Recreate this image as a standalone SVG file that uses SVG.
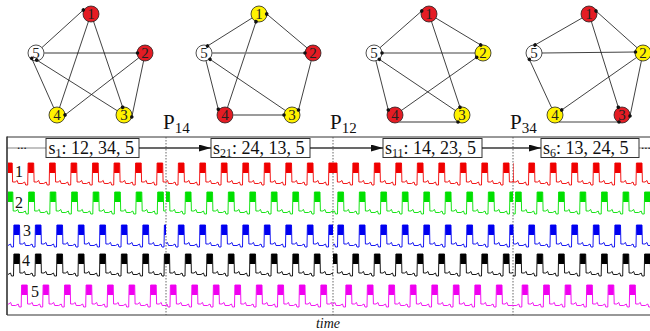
<svg xmlns="http://www.w3.org/2000/svg" width="650" height="331" viewBox="0 0 650 331">
<style>
.nd circle{stroke:#222;stroke-width:0.8}
.r{fill:#e41c24}.y{fill:#fff200}.wt{fill:#fff}
.nd text{font-family:"Liberation Serif",serif;font-size:15px;text-anchor:middle;fill:#222}
.ed line{stroke:#111;stroke-width:0.8;fill:none}
.ed line.d{marker-end:url(#dot)}
.ed line.g{stroke:#7a7a7a;stroke-width:1.4}
.w{fill:none;stroke:currentColor;stroke-width:0.9}
.blk{fill:currentColor}
.t{font-family:"Liberation Serif",serif;fill:#111}
.box{fill:#fff;stroke:#333;stroke-width:1}
.arr{stroke:#111;stroke-width:1;marker-end:url(#ah)}
.dash{stroke:#555;stroke-width:0.9;stroke-dasharray:1.5 1.5}
.fr{stroke:#333;fill:none}
</style>
<defs>
<marker id="dot" markerUnits="userSpaceOnUse" markerWidth="5" markerHeight="5" refX="2.5" refY="2.5" orient="auto"><circle cx="2.5" cy="2.5" r="1.8" fill="#111"/></marker>
<marker id="ah" markerUnits="userSpaceOnUse" markerWidth="13" markerHeight="8" refX="12" refY="3.5" orient="auto"><path d="M0,0 L12,3.5 L0,7 Z" fill="#111"/></marker>
<clipPath id="c1"><rect x="8" y="158" width="158" height="156"/></clipPath>
<clipPath id="c2"><rect x="166" y="158" width="167" height="156"/></clipPath>
<clipPath id="c3"><rect x="333" y="158" width="180" height="156"/></clipPath>
<clipPath id="c4"><rect x="513" y="158" width="137" height="156"/></clipPath>
<g id="wave">
<path class="w" d="M0,23l.4-22h5.6l.4,19h2.6l2-1.5l1,3h4l2.5-1.5l1,3h2l.4-22h5.6l.4,19h2.6l2-1.5l1,3h4l2.5-1.5l1,3h2l.4-22h5.6l.4,19h2.6l2-1.5l1,3h4l2.5-1.5l1,3h2l.4-22h5.6l.4,19h2.6l2-1.5l1,3h4l2.5-1.5l1,3h2l.4-22h5.6l.4,19h2.6l2-1.5l1,3h4l2.5-1.5l1,3h2l.4-22h5.6l.4,19h2.6l2-1.5l1,3h4l2.5-1.5l1,3h2l.4-22h5.6l.4,19h2.6l2-1.5l1,3h4l2.5-1.5l1,3h2l.4-22h5.6l.4,19h2.6l2-1.5l1,3h4l2.5-1.5l1,3h2l.4-22h5.6l.4,19h2.6l2-1.5l1,3h4l2.5-1.5l1,3h2l.4-22h5.6l.4,19h2.6l2-1.5l1,3h4l2.5-1.5l1,3h2l.4-22h5.6l.4,19h2.6l2-1.5l1,3h4l2.5-1.5l1,3h2l.4-22h5.6l.4,19h2.6l2-1.5l1,3h4l2.5-1.5l1,3h2l.4-22h5.6l.4,19h2.6l2-1.5l1,3h4l2.5-1.5l1,3h2l.4-22h5.6l.4,19h2.6l2-1.5l1,3h4l2.5-1.5l1,3h2l.4-22h5.6l.4,19h2.6l2-1.5l1,3h4l2.5-1.5l1,3h2l.4-22h5.6l.4,19h2.6l2-1.5l1,3h4l2.5-1.5l1,3h2l.4-22h5.6l.4,19h2.6l2-1.5l1,3h4l2.5-1.5l1,3h2l.4-22h5.6l.4,19h2.6l2-1.5l1,3h4l2.5-1.5l1,3h2l.4-22h5.6l.4,19h2.6l2-1.5l1,3h4l2.5-1.5l1,3h2l.4-22h5.6l.4,19h2.6l2-1.5l1,3h4l2.5-1.5l1,3h2l.4-22h5.6l.4,19h2.6l2-1.5l1,3h4l2.5-1.5l1,3h2l.4-22h5.6l.4,19h2.6l2-1.5l1,3h4l2.5-1.5l1,3h2l.4-22h5.6l.4,19h2.6l2-1.5l1,3h4l2.5-1.5l1,3h2l.4-22h5.6l.4,19h2.6l2-1.5l1,3h4l2.5-1.5l1,3h2l.4-22h5.6l.4,19h2.6l2-1.5l1,3h4l2.5-1.5l1,3h2l.4-22h5.6l.4,19h2.6l2-1.5l1,3h4l2.5-1.5l1,3h2l.4-22h5.6l.4,19h2.6l2-1.5l1,3h4l2.5-1.5l1,3h2l.4-22h5.6l.4,19h2.6l2-1.5l1,3h4l2.5-1.5l1,3h2l.4-22h5.6l.4,19h2.6l2-1.5l1,3h4l2.5-1.5l1,3h2l.4-22h5.6l.4,19h2.6l2-1.5l1,3h4l2.5-1.5l1,3h2l.4-22h5.6l.4,19h2.6l2-1.5l1,3h4l2.5-1.5l1,3h2l.4-22h5.6l.4,19h2.6l2-1.5l1,3h4l2.5-1.5l1,3h2"/>
<path class="blk" d="M0.4,1h5.6v10h-5.6zm21.5,0h5.6v10h-5.6zm21.5,0h5.6v10h-5.6zm21.5,0h5.6v10h-5.6zm21.5,0h5.6v10h-5.6zm21.5,0h5.6v10h-5.6zm21.5,0h5.6v10h-5.6zm21.5,0h5.6v10h-5.6zm21.5,0h5.6v10h-5.6zm21.5,0h5.6v10h-5.6zm21.5,0h5.6v10h-5.6zm21.5,0h5.6v10h-5.6zm21.5,0h5.6v10h-5.6zm21.5,0h5.6v10h-5.6zm21.5,0h5.6v10h-5.6zm21.5,0h5.6v10h-5.6zm21.5,0h5.6v10h-5.6zm21.5,0h5.6v10h-5.6zm21.5,0h5.6v10h-5.6zm21.5,0h5.6v10h-5.6zm21.5,0h5.6v10h-5.6zm21.5,0h5.6v10h-5.6zm21.5,0h5.6v10h-5.6zm21.5,0h5.6v10h-5.6zm21.5,0h5.6v10h-5.6zm21.5,0h5.6v10h-5.6zm21.5,0h5.6v10h-5.6zm21.5,0h5.6v10h-5.6zm21.5,0h5.6v10h-5.6zm21.5,0h5.6v10h-5.6zm21.5,0h5.6v10h-5.6zm21.5,0h5.6v10h-5.6z"/>
</g>
</defs>

<!-- Graph 1 -->
<g id="graph1" transform="translate(91,14)">
<g id="g1-n1" class="nd"><circle class="r" cx="0" cy="0" r="8"/><text x="0" y="5">1</text></g>
<g id="g1-n2" class="nd"><circle class="r" cx="54" cy="39" r="8"/><text x="54" y="44">2</text></g>
<g id="g1-n3" class="nd"><circle class="y" cx="33" cy="101" r="8"/><text x="33" y="106">3</text></g>
<g id="g1-n4" class="nd"><circle class="y" cx="-34" cy="101" r="8"/><text x="-34" y="106">4</text></g>
<g id="g1-n5" class="nd"><circle class="wt" cx="-55" cy="39" r="8"/><text x="-55" y="44">5</text></g>
<g id="g1-edges" class="ed">
<line class="d" x1="-49.1" y1="33.6" x2="-7.7" y2="-4"/>
<line class="d g" x1="-47" y1="39" x2="46.5" y2="39"/>
<line class="d" x1="-37.3" y1="93.7" x2="-59.3" y2="44.3"/>
<line class="d" x1="26.2" y1="96.7" x2="-54.3" y2="46"/>
<line class="d" x1="47.7" y1="43.9" x2="-26" y2="101"/>
<line class="d" x1="2.6" y1="7.6" x2="31.7" y2="93.3"/>
<line class="d" x1="52.6" y1="46.9" x2="40.8" y2="103"/>
<line x1="-2.6" y1="7.6" x2="-31.4" y2="93.4"/>
</g>
</g>

<!-- Graph 2 -->
<g id="graph2" transform="translate(259,14)">
<g id="g2-n1" class="nd"><circle class="y" cx="0" cy="0" r="8"/><text x="0" y="5">1</text></g>
<g id="g2-n2" class="nd"><circle class="r" cx="54" cy="39" r="8"/><text x="54" y="44">2</text></g>
<g id="g2-n3" class="nd"><circle class="y" cx="33" cy="101" r="8"/><text x="33" y="106">3</text></g>
<g id="g2-n4" class="nd"><circle class="r" cx="-34" cy="101" r="8"/><text x="-34" y="106">4</text></g>
<g id="g2-n5" class="nd"><circle class="wt" cx="-55" cy="39" r="8"/><text x="-55" y="44">5</text></g>
<g id="g2-edges" class="ed">
<line class="d" x1="-6.9" y1="4" x2="-51.5" y2="32"/>
<line class="d" x1="47.9" y1="33.8" x2="7.7" y2="0"/>
<line class="d" x1="-31.5" y1="93.4" x2="-3" y2="7.7"/>
<line class="d g" x1="-47" y1="39" x2="46" y2="39"/>
<line class="d" x1="26.4" y1="96.5" x2="-49" y2="45.3"/>
<line class="d" x1="-53" y1="46.8" x2="-40.7" y2="95.3"/>
<line class="d" x1="52.2" y1="46.8" x2="39.5" y2="96"/>
<line class="d g" x1="-26" y1="101" x2="25" y2="101"/>
</g>
</g>

<!-- Graph 3 -->
<g id="graph3" transform="translate(429,14)">
<g id="g3-n1" class="nd"><circle class="r" cx="0" cy="0" r="8"/><text x="0" y="5">1</text></g>
<g id="g3-n2" class="nd"><circle class="y" cx="54" cy="39" r="8"/><text x="54" y="44">2</text></g>
<g id="g3-n3" class="nd"><circle class="y" cx="33" cy="101" r="8"/><text x="33" y="106">3</text></g>
<g id="g3-n4" class="nd"><circle class="r" cx="-34" cy="101" r="8"/><text x="-34" y="106">4</text></g>
<g id="g3-n5" class="nd"><circle class="wt" cx="-55" cy="39" r="8"/><text x="-55" y="44">5</text></g>
<g id="g3-edges" class="ed">
<line class="d" x1="-49" y1="33.7" x2="-7.3" y2="-3"/>
<line class="d" x1="6.9" y1="4.1" x2="51.7" y2="31"/>
<line class="d" x1="2.5" y1="7.6" x2="31" y2="93.3"/>
<line class="d" x1="46" y1="39" x2="-47" y2="39"/>
<line class="d" x1="26.4" y1="96.5" x2="-49.7" y2="45.3"/>
<line class="d" x1="-53.1" y1="46.8" x2="-40.7" y2="96"/>
<line class="d" x1="-27.5" y1="96.4" x2="47.7" y2="43.3"/>
<line class="d g" x1="-30" y1="108" x2="29" y2="108"/>
</g>
</g>

<!-- Graph 4 -->
<g id="graph4" transform="translate(589,14)">
<g id="g4-n1" class="nd"><circle class="r" cx="0" cy="0" r="8"/><text x="0" y="5">1</text></g>
<g id="g4-n2" class="nd"><circle class="y" cx="54" cy="39" r="8"/><text x="54" y="44">2</text></g>
<g id="g4-n3" class="nd"><circle class="r" cx="33" cy="101" r="8"/><text x="33" y="106">3</text></g>
<g id="g4-n4" class="nd"><circle class="y" cx="-34" cy="101" r="8"/><text x="-34" y="106">4</text></g>
<g id="g4-n5" class="nd"><circle class="wt" cx="-55" cy="39" r="8"/><text x="-55" y="44">5</text></g>
<g id="g4-edges" class="ed">
<line class="d" x1="-6.9" y1="4" x2="-54" y2="31"/>
<line class="d" x1="48" y1="33.7" x2="7" y2="-3"/>
<line class="d" x1="2.4" y1="7.6" x2="29.3" y2="93.3"/>
<line class="d" x1="-47" y1="39" x2="46.5" y2="38"/>
<line class="d" x1="-37.4" y1="93.7" x2="-59.7" y2="45.3"/>
<line class="d" x1="47.4" y1="43.6" x2="-27.3" y2="96"/>
<line class="d" x1="52.4" y1="46.8" x2="41" y2="102"/>
<line class="d" x1="-30" y1="108" x2="30" y2="108"/>
</g>
</g>

<!-- switch labels -->
<g id="labels-P" class="t">
<text x="163" y="129" font-size="21">P<tspan font-size="15" dy="4">14</tspan></text>
<text x="330" y="129" font-size="21">P<tspan font-size="15" dy="4">12</tspan></text>
<text x="510" y="129" font-size="21">P<tspan font-size="15" dy="4">34</tspan></text>
</g>

<!-- frame -->
<g id="frame">
<line class="fr" x1="7" y1="137" x2="650" y2="137" stroke-width="1"/>
<line class="fr" x1="7" y1="148" x2="650" y2="148" stroke="#c8c8c8" stroke-width="0.6"/>
<line class="fr" x1="7" y1="136.5" x2="7" y2="315" stroke-width="1.6"/>
<line class="fr" x1="7" y1="315" x2="650" y2="315" stroke-width="1.2"/>
<line class="dash" x1="166" y1="137" x2="166" y2="315"/>
<line class="dash" x1="333" y1="137" x2="333" y2="315"/>
<line class="dash" x1="513" y1="137" x2="513" y2="315"/>
</g>

<!-- signals -->
<g id="signals">
<g clip-path="url(#c1)">
<use href="#wave" x="-15.3" y="162" color="#f00000"/>
<use href="#wave" x="-14.7" y="191" color="#00e000"/>
<use href="#wave" x="-8" y="224" color="#0000f0"/>
<use href="#wave" x="-8" y="253" color="#000"/>
<use href="#wave" x="-0.3" y="284" color="#f000f0"/>
</g>
<g clip-path="url(#c2)">
<use href="#wave" x="156.5" y="162" color="#f00000"/>
<use href="#wave" x="163.5" y="191" color="#00e000"/>
<use href="#wave" x="156.5" y="224" color="#0000f0"/>
<use href="#wave" x="163.5" y="253" color="#000"/>
<use href="#wave" x="148.5" y="284" color="#f000f0"/>
</g>
<g clip-path="url(#c3)">
<use href="#wave" x="309.5" y="162" color="#f00000"/>
<use href="#wave" x="316" y="191" color="#00e000"/>
<use href="#wave" x="316" y="224" color="#0000f0"/>
<use href="#wave" x="309.5" y="253" color="#000"/>
<use href="#wave" x="324" y="284" color="#f000f0"/>
</g>
<g clip-path="url(#c4)">
<use href="#wave" x="507" y="162" color="#f00000"/>
<use href="#wave" x="493.7" y="191" color="#00e000"/>
<use href="#wave" x="507" y="224" color="#0000f0"/>
<use href="#wave" x="493.7" y="253" color="#000"/>
<use href="#wave" x="500.3" y="284" color="#f000f0"/>
</g>
</g>

<!-- row labels -->
<g id="row-labels" class="t" font-size="16">
<text x="15" y="177">1</text>
<text x="15" y="208">2</text>
<text x="23" y="236">3</text>
<text x="22" y="266">4</text>
<text x="31" y="297">5</text>
</g>

<!-- states -->
<g id="state-s1"><rect class="box" x="46" y="138.5" width="93" height="19"/><text class="t" x="48.5" y="154" font-size="18">s<tspan font-size="12" dy="3">1</tspan><tspan dy="-3">: 12, 34, 5</tspan></text></g>
<g id="state-s21"><rect class="box" x="211" y="138.5" width="99" height="19"/><text class="t" x="213" y="154" font-size="18">s<tspan font-size="12" dy="3">21</tspan><tspan dy="-3">: 24, 13, 5</tspan></text></g>
<g id="state-s11"><rect class="box" x="383" y="138.5" width="99" height="19"/><text class="t" x="385" y="154" font-size="18">s<tspan font-size="12" dy="3">11</tspan><tspan dy="-3">: 14, 23, 5</tspan></text></g>
<g id="state-s6"><rect class="box" x="541" y="138.5" width="98" height="19"/><text class="t" x="543" y="154" font-size="18">s<tspan font-size="12" dy="3">6</tspan><tspan dy="-3">: 13, 24, 5</tspan></text></g>
<g id="transitions">
<line class="arr" x1="139" y1="148" x2="211" y2="148"/>
<line class="arr" x1="310" y1="148" x2="383" y2="148"/>
<line class="arr" x1="482" y1="148" x2="541" y2="148"/>
</g>
<text class="t" x="17" y="149" font-size="13">...</text>
<text class="t" x="641" y="149" font-size="13">...</text>

<text class="t" x="328" y="328" font-size="14" font-style="italic" text-anchor="middle">time</text>
</svg>
